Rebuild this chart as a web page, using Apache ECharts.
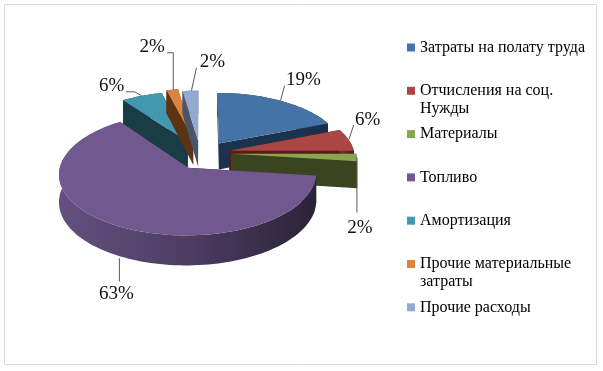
<!DOCTYPE html>
<html><head><meta charset="utf-8">
<style>html,body{margin:0;padding:0;background:#fff}#c{width:603px;height:371px}</style>
<script src="https://cdn.jsdelivr.net/npm/echarts@6/dist/echarts.min.js"></script>
</head><body><div id="c"></div>
<script>
// ---- data ----
const categories = ['Затраты на полату труда','Отчисления на соц.\nНужды','Материалы','Топливо','Амортизация','Прочие материальные\nзатраты','Прочие расходы'];
const shares = [19,6,2,63,6,1.7,2.3];

// ---- styles and layout ----
const topColors = ['#4573A7','#AA4644','#89A54E','#71588F','#4198AF','#DB843D','#93A9CF'];
const wallColors = ['#1C3350','#5A1A18','#3A4520','#2B2238','#1A3C47','#5C3313','#4A5568'];
const rimStops = [
  ['#22395a','#1a2e48'],['#7a2e2c','#5a1a18'],['#4a5a28','#3a4520'],
  ['#63507F','#4D3D63','#2B2238'],['#1a3c47','#1a3c47'],['#5c3313','#5c3313'],['#4a5568','#4a5568']
];
const drawOrder = [4,5,6,0,1,2,3];
const explode = [25,27,27,33,27,27,27];
const nudge = [[0,0],[-2,0],[-1,0],[0,1],[-6,0],[-6.6,-2],[-5,0]];
// leader offsets and label offsets relative to the middle of each slice's outer arc
const leaders = [[[0,0],[4,-15]],[[0,0],[5,-15]],[[0,0],[0,55]],[[4,33],[4,56]],[[0,0],[-7,-4],[-16,-4]],[[1,0],[1,-37],[-5,-37]],[[1,0],[6,-23]]];
const labelOffsets = [[23,-21],[19,-20],[3,70],[1,69],[-30,-10],[-20,-43],[22,-29]];
const CX=205, CY=153, R=125, KY=0.47, P=0.105, DEPTH=26.6;
const FONT='"Liberation Serif","Times New Roman",serif';
const legendX=407, legendFirst=47.5, legendStep=43.3;

const total = shares.reduce((a,b)=>a+b,0);
const starts = []; shares.reduce((a,v,i)=>(starts[i]=a,a+v),0);

function project(i,r,deg,drop){
  const mid=(starts[i]+shares[i]/2)/total*2*Math.PI, t=deg*Math.PI/180;
  const X=explode[i]*Math.sin(mid)+r*Math.sin(t), Y=explode[i]*Math.cos(mid)+r*Math.cos(t);
  const s=1-P*Y/R;
  return [CX+X*s+nudge[i][0], CY-Y*KY*s+nudge[i][1]+(drop?DEPTH*s:0)];
}
function renderSlice(params,api){
  const i=params.seriesIndex, a0=starts[i]/total*360, a1=a0+api.value(0)/total*360;
  const arc=[],arcLow=[];
  const n=Math.max(4,Math.ceil((a1-a0)/2));
  for(let k=0;k<=n;k++){const d=a0+(a1-a0)*k/n;arc.push(project(i,R,d,false));arcLow.push(project(i,R,d,true));}
  const apex=project(i,0,0,false), apexLow=project(i,0,0,true);
  const wall={fill:wallColors[i]};
  const stops=rimStops[i].map((c,k,l)=>({offset:k/(l.length-1),color:c}));
  const children=[
    {type:'polygon',shape:{points:[apex,arc[0],arcLow[0],apexLow]},style:wall},
    {type:'polygon',shape:{points:[apex,arc[n],arcLow[n],apexLow]},style:wall},
    {type:'polygon',shape:{points:arc.concat(arcLow.slice().reverse())},style:{fill:{type:'linear',x:0,y:0,x2:1,y2:0,colorStops:stops}}},
    {type:'polygon',shape:{points:[apex].concat(arc)},style:{fill:topColors[i]}}
  ];
  const m=project(i,R,(a0+a1)/2,false);
  children.push({type:'polyline',z2:5,shape:{points:leaders[i].map(o=>[m[0]+o[0],m[1]+o[1]])},style:{stroke:'#595959',lineWidth:1,fill:null}});
  children.push({type:'text',z2:6,style:{text:Math.round(api.value(0)/total*100)+'%',x:m[0]+labelOffsets[i][0],y:m[1]+labelOffsets[i][1],fill:'#111',font:'19px '+FONT,textAlign:'center',textVerticalAlign:'middle'}});
  return {type:'group',children};
}

const series=categories.map((name,i)=>({
  type:'custom',name,coordinateSystem:'none',renderItem:renderSlice,
  data:[[shares[i]]],z:2+drawOrder.indexOf(i),
  itemStyle:{color:topColors[i]},silent:true,animation:false
}));
const legend=categories.map((name,i)=>{
  const two=name.includes('\n');
  return {
    data:[{name,icon:'rect'}],orient:'vertical',selectedMode:false,
    left:legendX,top:legendFirst+legendStep*i-(two?27:9),padding:0,
    itemWidth:8,itemHeight:8,itemGap:0,
    formatter:n=>(n.includes('\n')?'\n':'')+n,
    textStyle:{fontFamily:FONT,fontSize:16,color:'#000',lineHeight:18}
  };
});
const chart=echarts.init(document.getElementById('c'),null,{renderer:'canvas'});
chart.setOption({
  animation:false,backgroundColor:'#fff',
  legend,series,
  graphic:[{type:'rect',z:-1,shape:{x:4.5,y:4.5,width:592,height:360},style:{fill:'#fff',stroke:'#D9D9D9',lineWidth:1}}]
});
</script></body></html>
